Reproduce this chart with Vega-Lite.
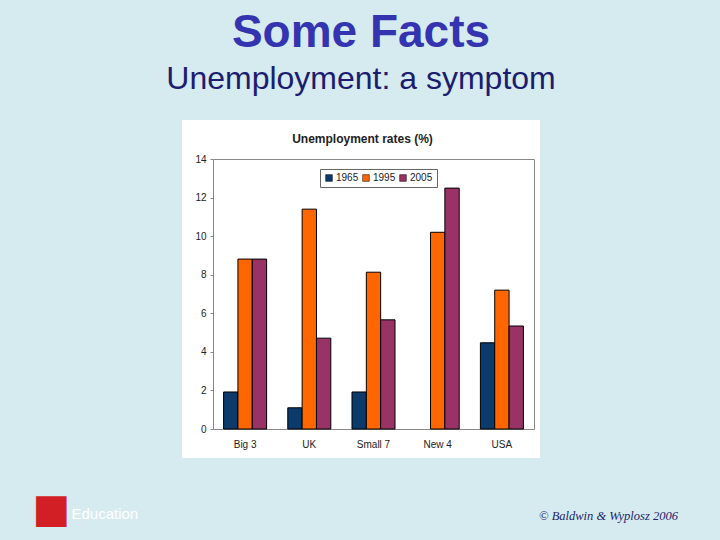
{
  "$schema": "https://vega.github.io/schema/vega-lite/v6.json",
  "width": 358,
  "height": 338,
  "autosize": {"type": "none"},
  "padding": {"left": 182, "top": 120, "right": 180, "bottom": 82},
  "background": "#d5ebef",
  "title": {
    "text": "Some Facts",
    "subtitle": "Unemployment: a symptom",
    "anchor": "middle",
    "frame": "group",
    "font": "Liberation Sans",
    "fontSize": 46,
    "fontWeight": "bold",
    "color": "#3434b0",
    "subtitleFont": "Liberation Sans",
    "subtitleFontSize": 32,
    "subtitleColor": "#1c1c70",
    "subtitlePadding": 7,
    "offset": 22,
    "dy": 127
  },
  "config": {"view": {"fill": "white", "stroke": null}},
  "data": {
    "values": [
      {"group": "Big 3", "year": "1965", "rate": 1.92},
      {"group": "Big 3", "year": "1995", "rate": 8.81},
      {"group": "Big 3", "year": "2005", "rate": 8.81},
      {"group": "UK", "year": "1965", "rate": 1.1},
      {"group": "UK", "year": "1995", "rate": 11.4},
      {"group": "UK", "year": "2005", "rate": 4.71},
      {"group": "Small 7", "year": "1965", "rate": 1.92},
      {"group": "Small 7", "year": "1995", "rate": 8.13},
      {"group": "Small 7", "year": "2005", "rate": 5.66},
      {"group": "New 4", "year": "1995", "rate": 10.2},
      {"group": "New 4", "year": "2005", "rate": 12.49},
      {"group": "USA", "year": "1965", "rate": 4.47},
      {"group": "USA", "year": "1995", "rate": 7.2},
      {"group": "USA", "year": "2005", "rate": 5.34}
    ]
  },
  "layer": [
    {
      "mark": {"type": "bar", "stroke": "black", "strokeWidth": 1},
      "encoding": {
        "x": {
          "field": "group",
          "type": "nominal",
          "sort": ["Big 3", "UK", "Small 7", "New 4", "USA"],
          "scale": {"range": [31, 352], "paddingInner": 0.33, "paddingOuter": 0.165},
          "axis": {
            "orient": "bottom",
            "offset": -29,
            "labelAngle": 0,
            "ticks": false,
            "domainColor": "#888888",
            "labelFont": "Liberation Sans",
            "labelFontSize": 10,
            "labelColor": "#222222",
            "labelPadding": 10,
            "title": "© Baldwin & Wyplosz 2006",
            "titleFont": "Liberation Serif",
            "titleFontStyle": "italic",
            "titleFontWeight": "normal",
            "titleFontSize": 12.5,
            "titleColor": "#23236b",
            "titleX": 426,
            "titleY": 90,
            "titleAlign": "center",
            "titleBaseline": "alphabetic"
          }
        },
        "xOffset": {"field": "year", "type": "nominal", "sort": ["1965", "1995", "2005"]},
        "y": {
          "field": "rate",
          "type": "quantitative",
          "scale": {"domain": [0, 14], "range": [309, 39], "nice": false, "zero": true},
          "axis": {
            "orient": "left",
            "offset": -31,
            "values": [0, 2, 4, 6, 8, 10, 12, 14],
            "format": "d",
            "grid": false,
            "domainColor": "#888888",
            "tickColor": "#888888",
            "tickSize": 3,
            "labelFont": "Liberation Sans",
            "labelFontSize": 10,
            "labelPadding": 4,
            "labelColor": "#222222",
            "title": "Education",
            "titleAngle": 0,
            "titleX": -142,
            "titleY": 398,
            "titleAlign": "left",
            "titleBaseline": "alphabetic",
            "titleColor": "#ffffff",
            "titleFont": "Liberation Sans",
            "titleFontSize": 15,
            "titleFontWeight": "normal"
          }
        },
        "color": {
          "field": "year",
          "type": "nominal",
          "scale": {"domain": ["1965", "1995", "2005"], "range": ["#0b3a6b", "#ff6600", "#993366"]},
          "legend": {
            "orient": "none",
            "legendX": 138,
            "legendY": 49,
            "direction": "horizontal",
            "title": null,
            "fillColor": "white",
            "strokeColor": "#666666",
            "padding": 4,
            "symbolType": "square",
            "symbolSize": 45,
            "symbolStrokeColor": "black",
            "symbolStrokeWidth": 0.5,
            "labelFont": "Liberation Sans",
            "labelFontSize": 10,
            "labelColor": "#222222",
            "columnPadding": 2,
            "labelOffset": 2
          }
        }
      }
    },
    {
      "mark": {"type": "bar", "opacity": 0},
      "encoding": {
        "x": {
          "field": "group",
          "type": "nominal",
          "sort": ["Big 3", "UK", "Small 7", "New 4", "USA"],
          "axis": {
            "orient": "top",
            "offset": -39,
            "labels": false,
            "ticks": false,
            "domainColor": "#888888",
            "title": "Unemployment rates (%)",
            "titleFont": "Liberation Sans",
            "titleFontSize": 12,
            "titleFontWeight": "bold",
            "titleColor": "#222222",
            "titlePadding": 14,
            "titleX": 180
          }
        },
        "y": {
          "field": "rate",
          "type": "quantitative",
          "axis": {
            "orient": "right",
            "offset": -6,
            "labels": false,
            "ticks": false,
            "grid": false,
            "domainColor": "#888888",
            "title": "■",
            "titleAngle": 0,
            "titleX": -483,
            "titleY": 389,
            "titleAlign": "center",
            "titleBaseline": "middle",
            "titleColor": "#d21f26",
            "titleFont": "DejaVu Sans",
            "titleFontSize": 40
          }
        }
      }
    }
  ],
  "resolve": {"axis": {"x": "independent", "y": "independent"}}
}
